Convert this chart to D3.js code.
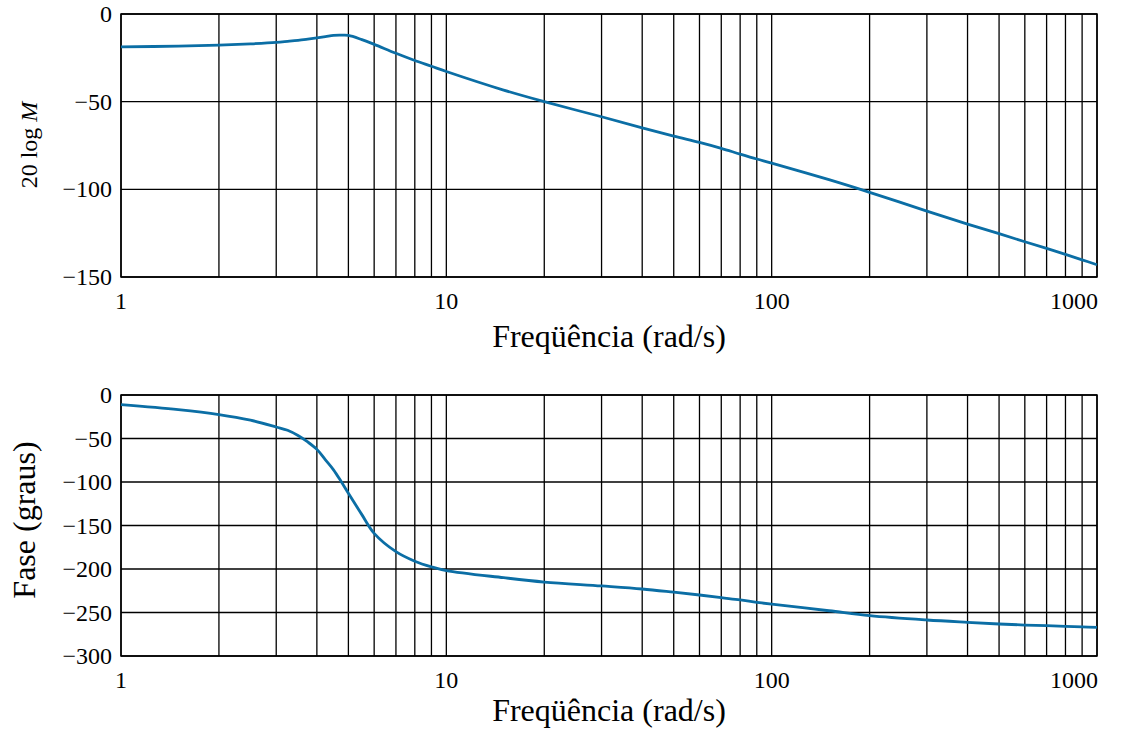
<!DOCTYPE html>
<html>
<head>
<meta charset="utf-8">
<script src="https://cdn.jsdelivr.net/npm/d3@7"></script>
<style>
    html, body { margin: 0; padding: 0; background: #fff; }
    svg { display: block; }
    svg text { font-family: 'Liberation Serif', 'Times New Roman', serif; fill: #000; }
</style>
</head>
<body>
<svg id="chart" width="1139" height="729"></svg>
<script>
'use strict';

// frequencies (rad/s) at which the curves were read
var freqs = [1, 1.5, 2, 2.5, 3, 3.25, 3.5, 3.75, 4, 4.25, 4.5, 4.75, 5, 5.5, 6, 7, 8, 9, 10,
    15, 20, 30, 40, 50, 60, 70, 80, 90, 100, 150, 200, 300, 400, 500, 600, 700, 800, 900, 1000];

// 20 log M (dB)
var magnitude = [-18.8, -18.3, -17.7, -17, -16.2, -15.6, -15, -14.3, -13.6, -12.9, -12.2, -12.1,
    -12.2, -14.6, -17.3, -22.4, -26.5, -29.8, -32.8, -43.4, -50, -58.6, -64.9, -69.6, -73.2,
    -76.6, -79.9, -82.7, -85, -94.5, -101.7, -112.4, -119.8, -125.3, -129.9, -133.7, -137.1,
    -140.2, -143];

// phase (degrees)
var phase = [-11, -16.8, -22.5, -29, -36.8, -40.5, -46.5, -54, -62.5, -74.5, -86, -99.5, -113,
    -137.5, -159, -180, -191, -197.5, -201.8, -210, -215, -219.5, -223, -226.7, -229.9, -233,
    -235.6, -238.3, -240.4, -248, -253.6, -258.6, -261.3, -263.2, -264.4, -265.2, -265.9,
    -266.5, -267];

var xTicks = [1, 10, 100, 1000];
var magTicks = [0, -50, -100, -150];
var phaseTicks = [0, -50, -100, -150, -200, -250, -300];

var xTitle = 'Freqüência (rad/s)';
var lineColor = '#0b6ea5';

var svg = d3.select('#chart');

var left = 121;
var right = 1097;

// minor grid: 1..9 in each decade
var gridFreqs = [];
for(var dec = 1; dec < 1000; dec *= 10) {
    for(var k = 1; k < 10; k++) gridFreqs.push(dec * k);
}
gridFreqs.push(1000);

function minus(v) {
    return v < 0 ? '\u2212' + Math.abs(v) : String(v);
}

function drawPanel(opts) {
    var x = d3.scaleLog().domain([1, 1000]).range([left, right]);
    var y = d3.scaleLinear().domain(opts.yDomain).range([opts.bottom, opts.top]);

    var g = svg.append('g');

    // vertical grid
    g.selectAll('line.vgrid').data(gridFreqs).enter().append('line')
        .attr('class', 'vgrid')
        .attr('x1', function(d) { return x(d); })
        .attr('x2', function(d) { return x(d); })
        .attr('y1', opts.top)
        .attr('y2', opts.bottom)
        .attr('stroke', '#000')
        .attr('stroke-width', 1.3);

    // horizontal grid
    g.selectAll('line.hgrid').data(opts.yTicks).enter().append('line')
        .attr('class', 'hgrid')
        .attr('x1', left)
        .attr('x2', right)
        .attr('y1', function(d) { return y(d); })
        .attr('y2', function(d) { return y(d); })
        .attr('stroke', '#000')
        .attr('stroke-width', 1.3);

    g.append('rect')
        .attr('x', left)
        .attr('y', opts.top)
        .attr('width', right - left)
        .attr('height', opts.bottom - opts.top)
        .attr('fill', 'none')
        .attr('stroke', '#000')
        .attr('stroke-width', 1.5);

    // y tick labels
    g.selectAll('text.ytick').data(opts.yTicks).enter().append('text')
        .attr('class', 'ytick')
        .attr('x', left - 9)
        .attr('y', function(d) { return y(d); })
        .attr('dy', '0.34em')
        .attr('text-anchor', 'end')
        .attr('font-size', 24)
        .text(minus);

    // x tick labels
    g.selectAll('text.xtick').data(xTicks).enter().append('text')
        .attr('class', 'xtick')
        .attr('x', function(d) { return x(d); })
        .attr('y', opts.bottom + 32)
        .attr('text-anchor', function(d) { return d === 1000 ? 'end' : 'middle'; })
        .attr('dx', function(d) { return d === 1000 ? 1 : 0; })
        .attr('font-size', 24)
        .text(function(d) { return d; });

    g.append('text')
        .attr('x', (left + right) / 2)
        .attr('y', opts.bottom + opts.titleGap)
        .attr('text-anchor', 'middle')
        .attr('font-size', 32)
        .text(xTitle);

    var pts = freqs.map(function(f, i) { return [f, opts.values[i]]; });
    var line = d3.line()
        .x(function(d) { return x(d[0]); })
        .y(function(d) { return y(d[1]); })
        .curve(d3.curveCatmullRom.alpha(0.5));

    g.append('path')
        .datum(pts)
        .attr('d', line)
        .attr('fill', 'none')
        .attr('stroke', lineColor)
        .attr('stroke-width', 2.8)
        .attr('stroke-linejoin', 'round');

    return g;
}

drawPanel({top: 14, bottom: 277, yDomain: [-150, 0], yTicks: magTicks, values: magnitude, titleGap: 70});
drawPanel({top: 395, bottom: 656, yDomain: [-300, 0], yTicks: phaseTicks, values: phase, titleGap: 65});

// y axis titles
var magTitle = svg.append('text')
    .attr('transform', 'translate(37,145) rotate(-90)')
    .attr('text-anchor', 'middle')
    .attr('font-size', 24);
magTitle.append('tspan').text('20 log ');
magTitle.append('tspan').attr('font-style', 'italic').text('M');

svg.append('text')
    .attr('transform', 'translate(35,520) rotate(-90)')
    .attr('text-anchor', 'middle')
    .attr('font-size', 32)
    .text('Fase (graus)');
</script>
</body>
</html>
